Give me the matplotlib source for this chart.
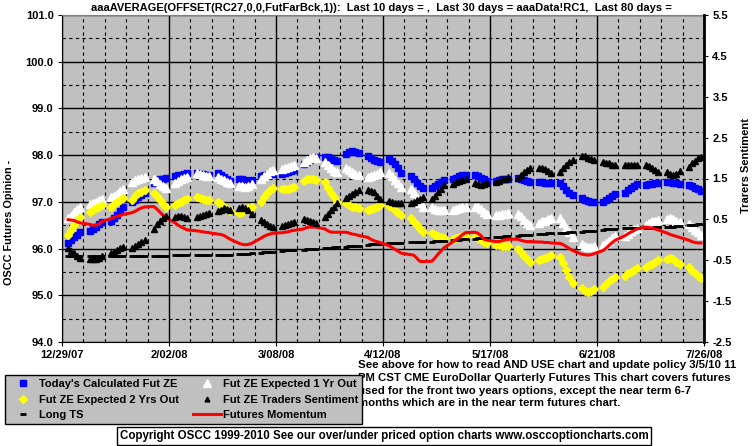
import matplotlib
matplotlib.use('Agg')
import matplotlib.pyplot as plt
import matplotlib.dates as mdates
import pandas as pd
from matplotlib.lines import Line2D
from matplotlib.ticker import MultipleLocator, FixedLocator

plt.rcParams['font.family'] = ['Liberation Sans', 'DejaVu Sans']
plt.rcParams['font.weight'] = 'bold'

# trading days shown on the chart
days = pd.bdate_range('2007-12-31', '2008-07-25')

# Today's Calculated Fut ZE (left axis)
calc_fut = [
    96.12, 96.18, 96.25, 96.30, 96.35, 96.38, 96.42, 96.47, 96.52, 96.56,
    96.60, 96.65, 96.72, 96.80, 96.88, 97.00, 97.05, 97.10, 97.15, 97.20,
    97.40, 97.45, 97.48, 97.50, 97.52, 97.55, 97.57, 97.58, 97.60, 97.62,
    97.62, 97.60, 97.60, 97.58, 97.57, 97.62, 97.58, 97.53, 97.48, 97.45,
    97.50, 97.48, 97.46, 97.45, 97.47, 97.55, 97.57, 97.58, 97.60, 97.60,
    97.60, 97.62, 97.64, 97.66, 97.68, 97.82, 97.86, 97.90, 97.93, 97.95,
    97.97, 97.95, 97.93, 97.90, 97.88, 98.02, 98.06, 98.08, 98.07, 98.05,
    97.98, 97.94, 97.90, 97.88, 97.86, 97.92, 97.88, 97.80, 97.72, 97.62,
    97.55, 97.48, 97.40, 97.34, 97.30, 97.30, 97.34, 97.38, 97.42, 97.47,
    97.48, 97.52, 97.55, 97.57, 97.57, 97.57, 97.55, 97.52, 97.48, 97.45,
    97.44, 97.46, 97.48, 97.50, 97.50, 97.52, 97.50, 97.47, 97.44, 97.42,
    97.43, 97.42, 97.41, 97.40, 97.40, 97.40, 97.33, 97.26, 97.20, 97.15,
    97.08, 97.04, 97.02, 97.00, 97.00, 97.00, 97.03, 97.08, 97.12, 97.17,
    97.20, 97.25, 97.30, 97.35, 97.38, 97.36, 97.38, 97.39, 97.40, 97.40,
    97.42, 97.42, 97.41, 97.40, 97.38, 97.36, 97.33, 97.30, 97.27, 97.24,
]

# Fut ZE Expected 1 Yr Out (left axis)
exp_1yr = [
    96.65, 96.70, 96.78, 96.85, 96.90, 96.95, 96.98, 97.00, 97.04, 97.07,
    97.10, 97.13, 97.17, 97.23, 97.28, 97.42, 97.46, 97.50, 97.52, 97.53,
    97.50, 97.45, 97.38, 97.33, 97.30, 97.40, 97.45, 97.48, 97.52, 97.54,
    97.62, 97.60, 97.58, 97.56, 97.55, 97.53, 97.50, 97.46, 97.42, 97.40,
    97.35, 97.33, 97.32, 97.34, 97.38, 97.50, 97.55, 97.60, 97.65, 97.68,
    97.70, 97.72, 97.74, 97.76, 97.78, 97.85, 97.90, 97.93, 97.95, 97.93,
    97.85, 97.78, 97.72, 97.67, 97.64, 97.72, 97.68, 97.64, 97.60, 97.58,
    97.54, 97.56, 97.58, 97.60, 97.63, 97.62, 97.55, 97.47, 97.40, 97.32,
    97.28, 97.18, 97.08, 96.98, 96.90, 96.88, 96.85, 96.83, 96.82, 96.82,
    96.83, 96.85, 96.87, 96.88, 96.90, 96.90, 96.88, 96.84, 96.78, 96.73,
    96.72, 96.72, 96.74, 96.75, 96.77, 96.75, 96.70, 96.62, 96.55, 96.50,
    96.55, 96.58, 96.60, 96.63, 96.65, 96.65, 96.55, 96.45, 96.35, 96.25,
    96.10, 96.05, 96.03, 96.03, 96.05, 96.08, 96.12, 96.17, 96.22, 96.27,
    96.27, 96.32, 96.37, 96.42, 96.45, 96.50, 96.54, 96.58, 96.60, 96.62,
    96.64, 96.65, 96.63, 96.60, 96.57, 96.52, 96.46, 96.40, 96.35, 96.30,
]

# Fut ZE Expected 2 Yrs Out (left axis)
exp_2yr = [
    96.30, 96.40, 96.50, 96.60, 96.68, 96.78, 96.83, 96.87, 96.90, 96.93,
    96.90, 96.95, 97.00, 97.04, 97.08, 97.05, 97.12, 97.18, 97.22, 97.25,
    97.20, 97.12, 97.03, 96.95, 96.90, 96.93, 96.97, 97.00, 97.04, 97.07,
    97.10, 97.09, 97.07, 97.05, 97.04, 97.00, 96.95, 96.90, 96.85, 96.80,
    96.77, 96.78, 96.82, 96.86, 96.90, 97.00, 97.10, 97.18, 97.25, 97.30,
    97.28, 97.27, 97.28, 97.30, 97.32, 97.45, 97.48, 97.50, 97.50, 97.47,
    97.42, 97.30, 97.20, 97.10, 97.00, 96.98, 96.93, 96.90, 96.88, 96.87,
    96.82, 96.84, 96.87, 96.90, 96.93, 96.92, 96.88, 96.83, 96.77, 96.72,
    96.65, 96.57, 96.50, 96.42, 96.35, 96.33, 96.30, 96.27, 96.24, 96.22,
    96.20, 96.22, 96.25, 96.26, 96.26, 96.25, 96.22, 96.18, 96.15, 96.12,
    96.08, 96.07, 96.05, 96.05, 96.06, 96.00, 95.93, 95.85, 95.78, 95.72,
    95.75, 95.77, 95.80, 95.83, 95.86, 95.82, 95.70, 95.55, 95.40, 95.27,
    95.15, 95.10, 95.08, 95.10, 95.13, 95.18, 95.24, 95.30, 95.35, 95.40,
    95.42, 95.47, 95.50, 95.55, 95.58, 95.60, 95.64, 95.68, 95.72, 95.76,
    95.78, 95.80, 95.78, 95.72, 95.66, 95.60, 95.53, 95.47, 95.42, 95.38,
]

# Fut ZE Traders Sentiment (right axis)
sentiment = [
    -0.21, -0.27, -0.33, -0.39, -0.44, -0.47, -0.48, -0.47, -0.44, -0.39,
    -0.33, -0.29, -0.26, -0.21, -0.18, -0.19, -0.15, -0.10, -0.05, -0.01,
    0.27, 0.38, 0.47, 0.54, 0.59, 0.56, 0.59, 0.59, 0.56, 0.54,
    0.56, 0.59, 0.61, 0.63, 0.65, 0.70, 0.73, 0.77, 0.76, 0.72,
    0.79, 0.81, 0.79, 0.72, 0.64, 0.49, 0.44, 0.38, 0.33, 0.31,
    0.33, 0.36, 0.39, 0.41, 0.44, 0.51, 0.49, 0.47, 0.44, 0.41,
    0.55, 0.64, 0.73, 0.81, 0.89, 1.02, 1.08, 1.13, 1.18, 1.21,
    1.21, 1.20, 1.16, 1.07, 0.99, 0.95, 0.93, 0.91, 0.89, 0.89,
    0.89, 0.93, 0.97, 1.01, 1.04, 0.99, 1.07, 1.16, 1.25, 1.34,
    1.36, 1.41, 1.44, 1.47, 1.48, 1.39, 1.36, 1.35, 1.36, 1.39,
    1.41, 1.44, 1.48, 1.50, 1.53, 1.52, 1.59, 1.65, 1.71, 1.75,
    1.76, 1.75, 1.73, 1.68, 1.64, 1.67, 1.75, 1.84, 1.91, 1.96,
    2.04, 2.04, 2.01, 1.98, 1.96, 1.90, 1.88, 1.87, 1.84, 1.84,
    1.84, 1.84, 1.84, 1.84, 1.84, 1.84, 1.81, 1.76, 1.71, 1.67,
    1.65, 1.61, 1.59, 1.61, 1.68, 1.79, 1.87, 1.93, 1.99, 2.03,
]

# Long TS (left axis)
long_ts = [
    95.85, 95.85, 95.85, 95.85, 95.85, 95.84, 95.84, 95.84, 95.84, 95.84,
    95.84, 95.84, 95.84, 95.84, 95.84, 95.85, 95.85, 95.85, 95.85, 95.85,
    95.85, 95.85, 95.85, 95.85, 95.85, 95.86, 95.86, 95.86, 95.86, 95.86,
    95.86, 95.86, 95.86, 95.86, 95.86, 95.87, 95.87, 95.87, 95.87, 95.87,
    95.88, 95.88, 95.89, 95.89, 95.90, 95.91, 95.92, 95.92, 95.93, 95.93,
    95.95, 95.96, 95.96, 95.97, 95.97, 95.98, 95.99, 95.99, 96.00, 96.00,
    96.01, 96.02, 96.02, 96.03, 96.03, 96.04, 96.05, 96.05, 96.06, 96.06,
    96.08, 96.09, 96.09, 96.10, 96.10, 96.11, 96.11, 96.11, 96.12, 96.12,
    96.13, 96.13, 96.13, 96.14, 96.14, 96.15, 96.16, 96.16, 96.17, 96.17,
    96.18, 96.19, 96.19, 96.20, 96.20, 96.21, 96.22, 96.22, 96.23, 96.23,
    96.24, 96.25, 96.25, 96.26, 96.26, 96.27, 96.28, 96.28, 96.29, 96.29,
    96.31, 96.32, 96.32, 96.33, 96.33, 96.34, 96.34, 96.34, 96.35, 96.35,
    96.36, 96.37, 96.37, 96.38, 96.38, 96.40, 96.41, 96.41, 96.42, 96.42,
    96.43, 96.43, 96.43, 96.44, 96.44, 96.45, 96.45, 96.45, 96.46, 96.46,
    96.47, 96.47, 96.47, 96.48, 96.48, 96.50, 96.51, 96.51, 96.52, 96.52,
]

# Futures Momentum (left axis)
momentum = [
    96.62, 96.61, 96.60, 96.57, 96.55, 96.52, 96.50, 96.50, 96.52, 96.58,
    96.64, 96.67, 96.69, 96.71, 96.73, 96.77, 96.80, 96.84, 96.87, 96.89,
    96.90, 96.85, 96.78, 96.72, 96.66, 96.55, 96.50, 96.46, 96.43, 96.40,
    96.38, 96.37, 96.36, 96.35, 96.34, 96.31, 96.30, 96.28, 96.24, 96.20,
    96.11, 96.09, 96.08, 96.09, 96.11, 96.22, 96.26, 96.29, 96.31, 96.33,
    96.34, 96.35, 96.36, 96.38, 96.39, 96.42, 96.45, 96.46, 96.46, 96.46,
    96.42, 96.38, 96.35, 96.35, 96.35, 96.35, 96.33, 96.31, 96.30, 96.28,
    96.24, 96.20, 96.17, 96.15, 96.13, 96.06, 96.02, 95.98, 95.94, 95.90,
    95.87, 95.86, 95.80, 95.73, 95.72, 95.73, 95.80, 95.88, 95.95, 96.02,
    96.15, 96.20, 96.24, 96.30, 96.34, 96.35, 96.33, 96.28, 96.20, 96.18,
    96.15, 96.15, 96.17, 96.19, 96.20, 96.20, 96.18, 96.16, 96.15, 96.15,
    96.14, 96.14, 96.13, 96.13, 96.12, 96.11, 96.08, 96.04, 96.00, 95.96,
    95.88, 95.87, 95.86, 95.87, 95.89, 95.96, 96.01, 96.07, 96.13, 96.18,
    96.27, 96.31, 96.35, 96.38, 96.42, 96.46, 96.45, 96.44, 96.42, 96.40,
    96.33, 96.30, 96.28, 96.26, 96.24, 96.18, 96.15, 96.13, 96.12, 96.12,
]

x_tick_dates = pd.date_range('2007-12-29', periods=7, freq='35D')
x_tick_labels = ['12/29/07', '2/02/08', '3/08/08', '4/12/08', '5/17/08', '6/21/08', '7/26/08']
left_ticks = [94.0, 95.0, 96.0, 97.0, 98.0, 99.0, 100.0, 101.0]
right_ticks = [-2.5, -1.5, -0.5, 0.5, 1.5, 2.5, 3.5, 4.5, 5.5]

title = ('aaaAVERAGE(OFFSET(RC27,0,0,FutFarBck,1)):  Last 10 days = ,  '
         'Last 30 days = aaaData!RC1,  Last 80 days =')
note = ('See above for how to read AND USE chart and update policy 3/5/10 11\n'
        'PM CST CME EuroDollar Quarterly Futures This chart covers futures\n'
        'used for the front two years options, except the near term 6-7\n'
        'months which are in the near term futures chart.')
copyright_txt = 'Copyright OSCC 1999-2010 See our over/under priced option charts www.osccoptioncharts.com'

fig = plt.figure(figsize=(7.55, 4.46), dpi=100)
fig.patch.set_facecolor('white')
ax = fig.add_axes([62 / 755, 104 / 446, 642 / 755, 327 / 446])
ax.set_facecolor('#C0C0C0')

# gridlines
ax.set_ylim(94, 101)
ax.set_yticks(left_ticks)
ax.set_yticklabels(['%.1f' % v for v in left_ticks])
ax.yaxis.set_minor_locator(MultipleLocator(0.5))
ax.set_xlim(pd.Timestamp('2007-12-29'), pd.Timestamp('2008-07-26'))
ax.set_xticks(x_tick_dates)
ax.set_xticklabels(x_tick_labels)
ax.xaxis.set_minor_locator(FixedLocator(mdates.date2num(pd.date_range('2007-12-29', '2008-07-26', freq='7D'))))
ax.grid(which='major', color='black', lw=1.0, ls='-')
ax.grid(which='minor', color='black', lw=0.8, ls=(0, (3, 3)))
ax.set_axisbelow(True)
ax.tick_params(which='minor', length=0)
ax.tick_params(which='major', length=3, width=0.8, direction='out', labelsize=8, pad=3)
for s in ['left', 'bottom']:
    ax.spines[s].set_color('black')
ax.spines['top'].set_color('#808080')
ax.spines['right'].set_visible(False)

ax.plot(days, calc_fut, ls='none', marker='s', ms=4.8, mfc='#0000FF', mec='#0000FF', zorder=3)
ax.plot(days, exp_1yr, ls='none', marker='^', ms=5.8, mfc='white', mec='white', zorder=4)
ax.plot(days, exp_2yr, ls='none', marker='D', ms=4.2, mfc='#FFFF00', mec='#FFFF00', zorder=5)
ax.plot(days, long_ts, ls='none', marker='_', ms=5, mew=2, color='black', zorder=7)
ax.plot(days, momentum, color='#FF0000', lw=2.2, zorder=8)

ax2 = ax.twinx()
ax2.set_ylim(-2.5, 5.5)
ax2.set_yticks(right_ticks)
ax2.set_yticklabels(['%.1f' % v for v in right_ticks])
ax2.tick_params(length=3, width=0.8, direction='out', labelsize=8, pad=3)
ax2.spines['right'].set_linewidth(2)
ax2.spines['top'].set_visible(False)
ax2.spines['left'].set_visible(False)
ax2.spines['bottom'].set_visible(False)
ax2.plot(days, sentiment, ls='none', marker='^', ms=3.8, color='black', zorder=6)

fig.text(381 / 755, 1 - 8 / 446, title, ha='center', va='center', fontsize=8)
fig.text(9 / 755, 1 - 222 / 446, 'OSCC Futures Opinion -', rotation=90,
         ha='center', va='center', fontsize=7.8)
fig.text(746 / 755, 1 - 165 / 446, 'Trarers Sentiment', rotation=90,
         ha='center', va='center', fontsize=8)

fig.text(358 / 755, 1 - 360 / 446, note, ha='left', va='top', fontsize=8.2,
         linespacing=1.35, zorder=2)
fig.text(384 / 755, 1 - 436 / 446, copyright_txt, ha='center', va='center', fontsize=8.3,
         bbox=dict(boxstyle='square,pad=0.25', facecolor='white', edgecolor='black', lw=1))

handles = [
    Line2D([], [], ls='none', marker='s', ms=4, color='#0000FF'),
    Line2D([], [], ls='none', marker='D', ms=4, color='#FFFF00'),
    Line2D([], [], ls='none', marker='_', ms=5, mew=2, color='black'),
    Line2D([], [], ls='none', marker='^', ms=6, color='white'),
    Line2D([], [], ls='none', marker='^', ms=3.5, color='black'),
    Line2D([], [], color='#FF0000', lw=2.2),
]
labels = ["Today's Calculated Fut ZE", 'Fut ZE Expected 2 Yrs Out', 'Long TS',
          'Fut ZE Expected 1 Yr Out', 'Fut ZE Traders Sentiment', 'Futures Momentum']
leg = fig.legend(handles, labels, ncol=2, loc='lower left',
                 bbox_to_anchor=(5 / 755, 22 / 446, 357 / 755, 52 / 446), mode='expand',
                 fontsize=8, frameon=True, fancybox=False, facecolor='#C0C0C0',
                 edgecolor='black', framealpha=1, borderaxespad=0, borderpad=0.35,
                 labelspacing=0.5, handlelength=2.5, handletextpad=0.2, columnspacing=0.5)
leg.get_frame().set_linewidth(1)
leg.set_zorder(5)

fig.savefig('out.png', dpi=100, facecolor='white')
